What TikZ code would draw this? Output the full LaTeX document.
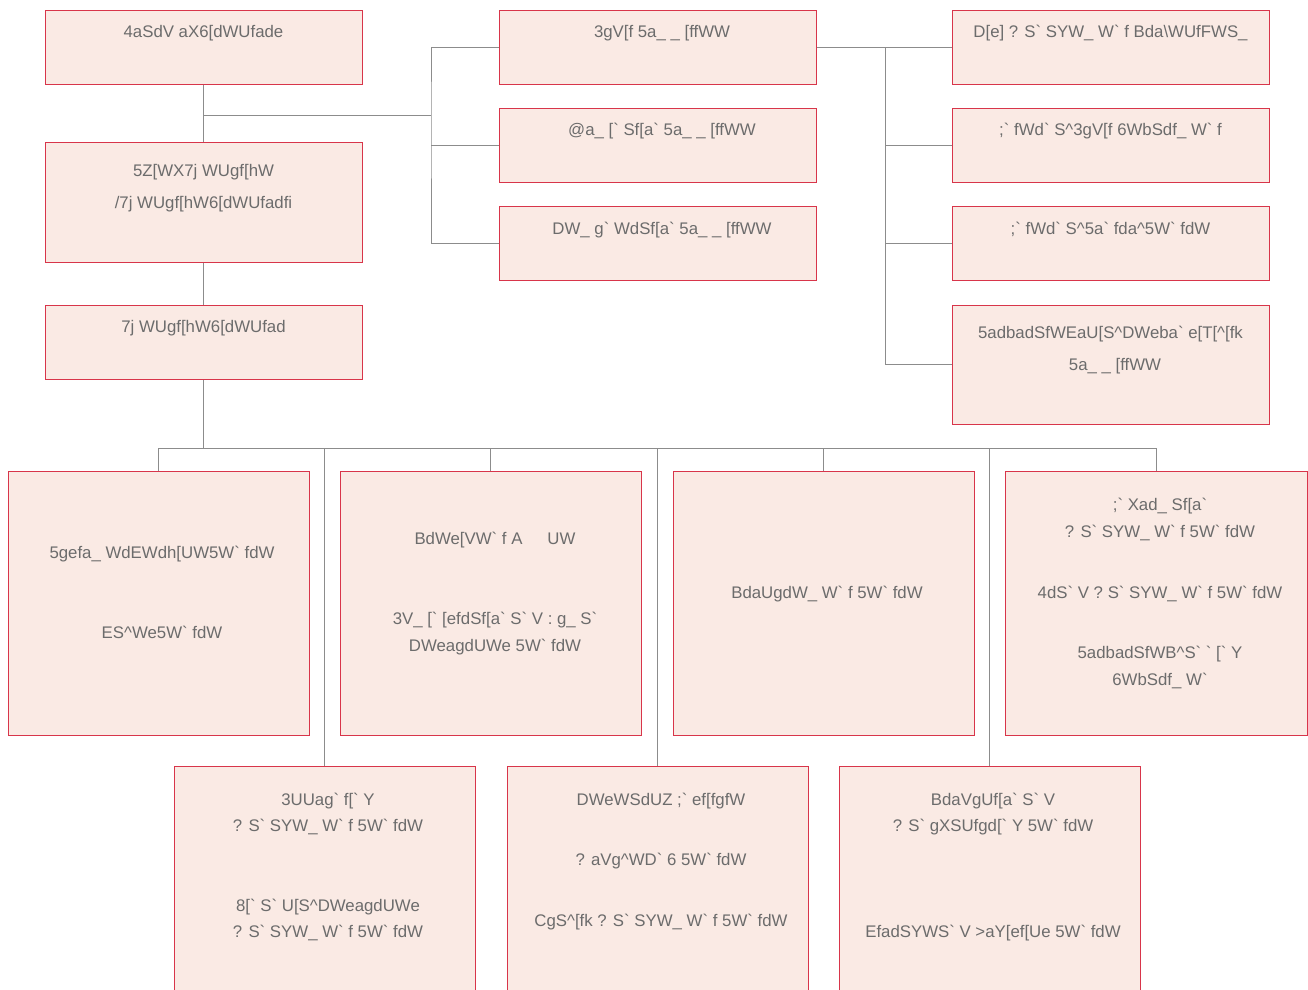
\documentclass[tikz,border=0pt]{standalone}
\usepackage{fontspec}
\setmainfont{Liberation Sans}[Ligatures={TeXOff,NoCommon}]
\definecolor{boxfill}{HTML}{FAEAE4}
\definecolor{boxline}{HTML}{D8354A}
\definecolor{connc}{HTML}{8C8C8C}
\definecolor{txtc}{HTML}{6C6C6C}
\tikzset{
  orgbox/.style={draw=boxline, fill=boxfill, line width=1pt, inner sep=0pt, minimum width=317pt, minimum height=74pt},
  bigbox/.style={orgbox, minimum width=301pt, minimum height=264pt},
  lbl/.style={text=txtc, font=\fontsize{16.8}{20}\selectfont, inner sep=0pt, anchor=base},
  conn/.style={draw=connc, line width=1pt}
}
\begin{document}
\begin{tikzpicture}[x=1pt,y=-1pt]
\useasboundingbox (0,0) rectangle (1308,989);
\fill[white] (0,0) rectangle (1308,989);
\clip (0,0) rectangle (1308,989);
% boxes
\node[orgbox] (bod) at (203.5,47) {};
\node[orgbox, minimum height=120pt] (ceo) at (203.5,202) {};
\node[orgbox] (ed) at (203.5,342) {};
\node[orgbox] (aud) at (657.5,47) {};
\node[orgbox] (nom) at (657.5,145) {};
\node[orgbox] (rem) at (657.5,243) {};
\node[orgbox] (risk) at (1110.5,47) {};
\node[orgbox] (iad) at (1110.5,145) {};
\node[orgbox] (icc) at (1110.5,243) {};
\node[orgbox, minimum height=119pt] (csr) at (1110.5,364.5) {};
\node[bigbox] (cust) at (158.5,603) {};
\node[bigbox] (pres) at (490.5,603) {};
\node[bigbox] (proc) at (823.5,603) {};
\node[bigbox, minimum width=302pt] (info) at (1156,603) {};
\node[bigbox] (acc) at (324.5,898) {};
\node[bigbox] (res) at (657.5,898) {};
\node[bigbox] (prod) at (989.5,898) {};
% connectors
\coordinate (j1) at (431,115);
\draw[conn] (bod.south) -- (ceo.north);
\draw[conn] (bod.south |- j1) -- (j1);
\draw[conn] (aud.west) -| (j1) |- (rem.west);
\draw[conn] (nom.west) -- (nom.west -| j1);
\coordinate (j2) at (885,47);
\draw[conn] (aud.east) -- (risk.west);
\draw[conn] (j2) |- (csr.west);
\draw[conn] (iad.west -| j2) -- (iad.west);
\draw[conn] (icc.west -| j2) -- (icc.west);
\draw[conn] (ceo.south) -- (ed.north);
\coordinate (bus) at (203.5,448);
\draw[conn] (ed.south) -- (bus);
\draw[conn] (cust.north |- bus) -- (info.north |- bus);
\foreach \b in {cust,pres,proc,info,acc,res,prod}{
  \draw[conn] (\b.north |- bus) -- (\b.north);
}
% texts
\node[lbl] (t1) at (203.5,37) {4aSdV aX6[dWUfade};
\node[lbl] (t2) at (203.5,176) {5Z[WX7j WUgf[hW};
\node[lbl] (t3) at (203.5,208) {/7j WUgf[hW6[dWUfadfi};
\node[lbl] (t4) at (203.5,332) {7j WUgf[hW6[dWUfad};
\node[lbl] (t5) at (662,37) {3gV[f 5a\_ \_ [ffWW};
\node[lbl] (t6) at (662,135) {@a\_ [` Sf[a` 5a\_ \_ [ffWW};
\node[lbl] (t7) at (662,234) {DW\_ g` WdSf[a` 5a\_ \_ [ffWW};
\node[lbl] (t8) at (1110.5,37) {D[e] ? S` SYW\_ W` f Bda\textbackslash WUfFWS\_};
\node[lbl] (t9) at (1110.5,135) {;` fWd` S\textasciicircum 3gV[f 6WbSdf\_ W` f};
\node[lbl] (t10) at (1110.5,234) {;` fWd` S\textasciicircum 5a` fda\textasciicircum 5W` fdW};
\node[lbl] (t11) at (1110.5,338) {5adbadSfWEaU[S\textasciicircum DWeba` e[T[\textasciicircum [fk};
\node[lbl] (t12) at (1115,370) {5a\_ \_ [ffWW};
\node[lbl] (t13) at (162,558) {5gefa\_ WdEWdh[UW5W` fdW};
\node[lbl] (t14) at (162,638) {ES\textasciicircum We5W` fdW};
\node[lbl] (t15) at (495,544) {BdWe[VW` f A\hspace{25pt}UW};
\node[lbl] (t16) at (495,624) {3V\_ [` [efdSf[a`  S` V : g\_ S`};
\node[lbl] (t17) at (495,651) {DWeagdUWe 5W` fdW};
\node[lbl] (t18) at (827,598) {BdaUgdW\_ W` f 5W` fdW};
\node[lbl] (t19) at (1160,510) {;` Xad\_ Sf[a`};
\node[lbl] (t20) at (1160,537) {? S` SYW\_ W` f 5W` fdW};
\node[lbl] (t21) at (1160,598) {4dS` V ? S` SYW\_ W` f 5W` fdW};
\node[lbl] (t22) at (1160,658) {5adbadSfWB\textasciicircum S` ` [` Y};
\node[lbl] (t23) at (1160,685) {6WbSdf\_ W`};
\node[lbl] (t24) at (328,805) {3UUag` f[` Y};
\node[lbl] (t25) at (328,831) {? S` SYW\_ W` f 5W` fdW};
\node[lbl] (t26) at (328,911) {8[` S` U[S\textasciicircum DWeagdUWe};
\node[lbl] (t27) at (328,937) {? S` SYW\_ W` f 5W` fdW};
\node[lbl] (t28) at (661,805) {DWeWSdUZ ;` ef[fgfW};
\node[lbl] (t29) at (661,865) {? aVg\textasciicircum WD` 6 5W` fdW};
\node[lbl] (t30) at (661,926) {CgS\textasciicircum [fk ? S` SYW\_ W` f 5W` fdW};
\node[lbl] (t31) at (993,805) {BdaVgUf[a` S` V};
\node[lbl] (t32) at (993,831) {? S` gXSUfgd[` Y 5W` fdW};
\node[lbl] (t33) at (993,937) {EfadSYWS` V >aY[ef[Ue 5W` fdW};
\end{tikzpicture}
\end{document}
